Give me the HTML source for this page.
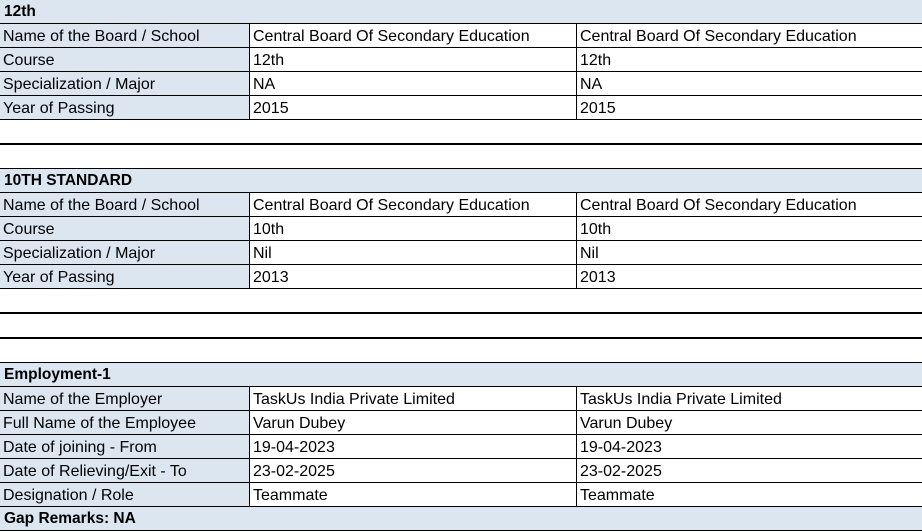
<!DOCTYPE html>
<html><head><meta charset="utf-8"><style>
body{margin:0;width:922px;height:532px;background:#fff;position:relative;overflow:hidden;font-family:"Liberation Sans",sans-serif;font-size:16px;color:#000}
.r{position:absolute;left:0;width:922px;height:23px;border-bottom:1px solid #000}
.h{background:#dce6f1;font-weight:bold;font-size:15.5px}
.h span{position:absolute;left:4px;top:3px}
.c{position:absolute;top:1px;height:23px;line-height:23px;padding-left:3px;box-sizing:border-box;white-space:nowrap}
.a{left:0;width:250px;top:0;height:23px;padding-top:1px;background:#dce6f1;border-right:1px solid #000}
.b{left:250px;width:327px;top:0;padding-top:1px;border-right:1px solid #000}
.d{left:577px;width:345px;top:0;padding-top:1px}
.t{position:absolute;left:0;width:922px;height:2px;background:#000}
.tl{position:absolute;left:0;width:922px;height:1px;background:#000}
</style></head><body>
<div class="r h" style="top:0"><span>12th</span></div>
<div class="r" style="top:24px"><div class="c a">Name of the Board / School</div><div class="c b">Central Board Of Secondary Education</div><div class="c d">Central Board Of Secondary Education</div></div>
<div class="r" style="top:48px"><div class="c a">Course</div><div class="c b">12th</div><div class="c d">12th</div></div>
<div class="r" style="top:72px"><div class="c a">Specialization / Major</div><div class="c b">NA</div><div class="c d">NA</div></div>
<div class="r" style="top:96px"><div class="c a">Year of Passing</div><div class="c b">2015</div><div class="c d">2015</div></div>
<div class="t" style="top:143px"></div>
<div class="tl" style="top:168px"></div>
<div class="r h" style="top:169px"><span>10TH STANDARD</span></div>
<div class="r" style="top:193px"><div class="c a">Name of the Board / School</div><div class="c b">Central Board Of Secondary Education</div><div class="c d">Central Board Of Secondary Education</div></div>
<div class="r" style="top:217px"><div class="c a">Course</div><div class="c b">10th</div><div class="c d">10th</div></div>
<div class="r" style="top:241px"><div class="c a">Specialization / Major</div><div class="c b">Nil</div><div class="c d">Nil</div></div>
<div class="r" style="top:265px"><div class="c a">Year of Passing</div><div class="c b">2013</div><div class="c d">2013</div></div>
<div class="t" style="top:312px"></div>
<div class="t" style="top:337px"></div>
<div class="tl" style="top:362px"></div>
<div class="r h" style="top:363px"><span>Employment-1</span></div>
<div class="r" style="top:387px"><div class="c a">Name of the Employer</div><div class="c b">TaskUs India Private Limited</div><div class="c d">TaskUs India Private Limited</div></div>
<div class="r" style="top:411px"><div class="c a">Full Name of the Employee</div><div class="c b">Varun Dubey</div><div class="c d">Varun Dubey</div></div>
<div class="r" style="top:435px"><div class="c a">Date of joining - From</div><div class="c b">19-04-2023</div><div class="c d">19-04-2023</div></div>
<div class="r" style="top:459px"><div class="c a">Date of Relieving/Exit - To</div><div class="c b">23-02-2025</div><div class="c d">23-02-2025</div></div>
<div class="r" style="top:483px"><div class="c a">Designation / Role</div><div class="c b">Teammate</div><div class="c d">Teammate</div></div>
<div class="r h" style="top:507px"><span>Gap Remarks: NA</span></div>
</body></html>
